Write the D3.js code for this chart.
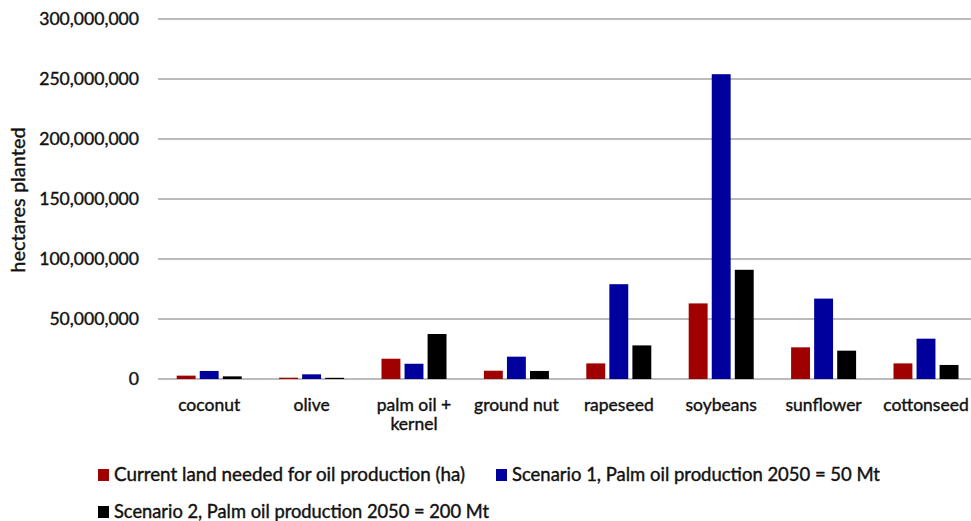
<!DOCTYPE html>
<html><head><meta charset="utf-8">
<script src="https://cdn.jsdelivr.net/npm/d3@7"></script>
<style>
body{margin:0;background:#fff;}
svg{display:block;font-family:Lato, "Open Sans", sans-serif;}
</style></head>
<body><svg id="c" width="971" height="521"></svg>
<script>
const categories = ["coconut","olive","palm oil + kernel","ground nut","rapeseed","soybeans","sunflower","cottonseed"];
const seriesNames = ["Current land needed for oil production (ha)","Scenario 1, Palm oil production 2050 = 50 Mt","Scenario 2, Palm oil production 2050 = 200 Mt"];
const currentLand = [2800000,1100000,16900000,6900000,13000000,63000000,26400000,13000000];
const scenario1 = [6700000,3900000,12700000,18600000,79000000,254000000,67000000,33600000];
const scenario2 = [2200000,1000000,37500000,6700000,28000000,91000000,23600000,11700000];
const yTicks = [0,50000000,100000000,150000000,200000000,250000000,300000000];
const colors = ["#a00000","#00009c","#000000"];

const svg = d3.select("#c");
const series = [currentLand, scenario1, scenario2];
const x0 = d3.scaleBand().domain(categories).range([158, 158 + 8*102.4]).padding(0);
const x1 = d3.scaleBand().domain([0,1,2]).range([0,65]).paddingInner(0.18);
const y = d3.scaleLinear().domain([0,300000000]).range([379,19]);
const fmt = d3.format(",");

// gridlines
svg.append("g").selectAll("line").data(yTicks).join("line")
  .attr("x1",158).attr("x2",971)
  .attr("y1",d=>y(d)).attr("y2",d=>y(d))
  .attr("stroke","#a6a6a6").attr("stroke-width",1.5);

// y axis labels
const yAxis = d3.axisLeft(y).tickValues(yTicks).tickFormat(fmt).tickSize(0).tickPadding(0);
const ga = svg.append("g").attr("transform","translate(139,0)").call(yAxis);
ga.select(".domain").remove();
ga.selectAll("text").attr("font-size",17.6).attr("fill","#111").attr("font-family","Lato, sans-serif")
  .attr("stroke","#111").attr("stroke-width",0.4);

// bars
const groups = svg.append("g").selectAll("g").data(categories).join("g")
  .attr("transform",d=>`translate(${x0(d) + (x0.bandwidth()-65)/2},0)`);
groups.selectAll("rect").data((d,i)=>series.map((s,j)=>({j, v:s[i]}))).join("rect")
  .attr("x",d=>x1(d.j)).attr("width",x1.bandwidth())
  .attr("y",d=>y(d.v)).attr("height",d=>y(0)-y(d.v))
  .attr("fill",d=>colors[d.j]);

// category labels
const lab = svg.append("g").selectAll("text").data(categories).join("text")
  .attr("x",d=>x0(d)+x0.bandwidth()/2).attr("y",411)
  .attr("text-anchor","middle").attr("font-size",17.5).attr("fill","#111")
  .attr("stroke","#111").attr("stroke-width",0.4);
lab.each(function(d){
  const t = d3.select(this);
  if(d === "palm oil + kernel"){
    t.append("tspan").attr("x",x0(d)+x0.bandwidth()/2).text("palm oil +");
    t.append("tspan").attr("x",x0(d)+x0.bandwidth()/2).attr("dy",19).text("kernel");
  } else t.text(d);
});

// y title
svg.append("text").attr("transform","translate(25,200) rotate(-90)")
  .attr("text-anchor","middle").attr("font-size",20).attr("fill","#111")
  .attr("stroke","#111").attr("stroke-width",0.4).text("hectares planted");

// legend
const legPos = [[98,469],[496,469],[98,506]];
const legLen = [351,368,375];
const lg = svg.append("g").selectAll("g").data(seriesNames).join("g")
  .attr("transform",(d,i)=>`translate(${legPos[i][0]},${legPos[i][1]})`);
lg.append("rect").attr("width",11).attr("height",12).attr("y",0).attr("fill",(d,i)=>colors[i]);
lg.append("text").attr("x",16).attr("y",12).attr("font-size",18.5).attr("fill","#111")
  .attr("stroke","#111").attr("stroke-width",0.4)
  .attr("textLength",(d,i)=>legLen[i]).attr("lengthAdjust","spacingAndGlyphs").text(d=>d);
</script></body></html>
